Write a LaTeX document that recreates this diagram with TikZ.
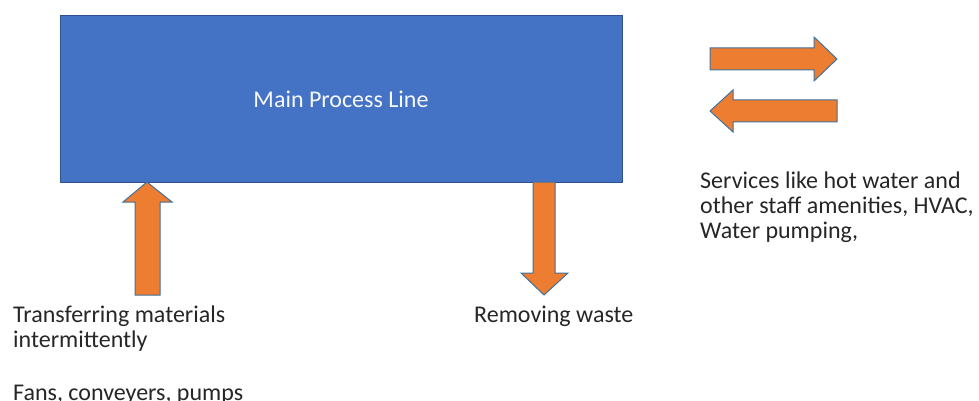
\documentclass[tikz,border=0pt]{standalone}
\usepackage{fontspec}
\setmainfont{Carlito}
\definecolor{boxblue}{HTML}{4472C4}
\definecolor{boxedge}{HTML}{2F528F}
\definecolor{arrowfill}{HTML}{ED7D31}
\definecolor{arrowedge}{HTML}{41719C}
\definecolor{txt}{HTML}{262626}
\tikzset{
  blockarrow/.style={fill=arrowfill, draw=arrowedge, line width=1pt, line join=miter},
  label/.style={inner sep=0pt, anchor=base west, text=txt, font=\fontsize{24}{25}\selectfont, align=left},
}
\begin{document}
\begin{tikzpicture}[x=1pt, y=-1pt]
\useasboundingbox (0,0) rectangle (979,401);

% main process block
\node[fill=boxblue, draw=boxedge, line width=1pt, minimum width=562pt, minimum height=167pt, inner sep=0pt, anchor=north west] (main) at (60,15) {};
\node[inner sep=0pt, anchor=base, text=white!95!boxblue, font=\fontsize{24}{25}\selectfont] (mainlabel) at (341,108) {Main Process Line};

% feed arrow pointing up into the line
\coordinate (intip) at (147,182);
\draw[blockarrow] (intip) -- (172,202) -- (160,202) -- (160,295) -- (135,295) -- (135,202) -- (123,202) -- cycle;

% waste arrow pointing down out of the line
\coordinate (outtip) at (544,295);
\draw[blockarrow] (533,182) -- (555,182) -- (555,273) -- (568,273) -- (outtip) -- (521,273) -- (533,273) -- cycle;

% two-way service arrows
\coordinate (rtip) at (837,59);
\draw[blockarrow] (710,48) -- (814,48) -- (814,37) -- (rtip) -- (814,81) -- (814,70) -- (710,70) -- cycle;
\coordinate (ltip) at (710,111);
\draw[blockarrow] (837,100) -- (733,100) -- (733,90) -- (ltip) -- (733,132) -- (733,122) -- (837,122) -- cycle;

% captions (base anchor sits on the last line of each block)
\node[label] (services) at (700,238) {Services like hot water and\\other staff amenities, HVAC,\\Water pumping,};
\node[label] (transfer) at (13,347) {Transferring materials\\intermittently};
\node[label] (waste) at (474,322) {Removing waste};
\node[label] (fans) at (13,400) {Fans, conveyers, pumps};
\end{tikzpicture}
\end{document}
